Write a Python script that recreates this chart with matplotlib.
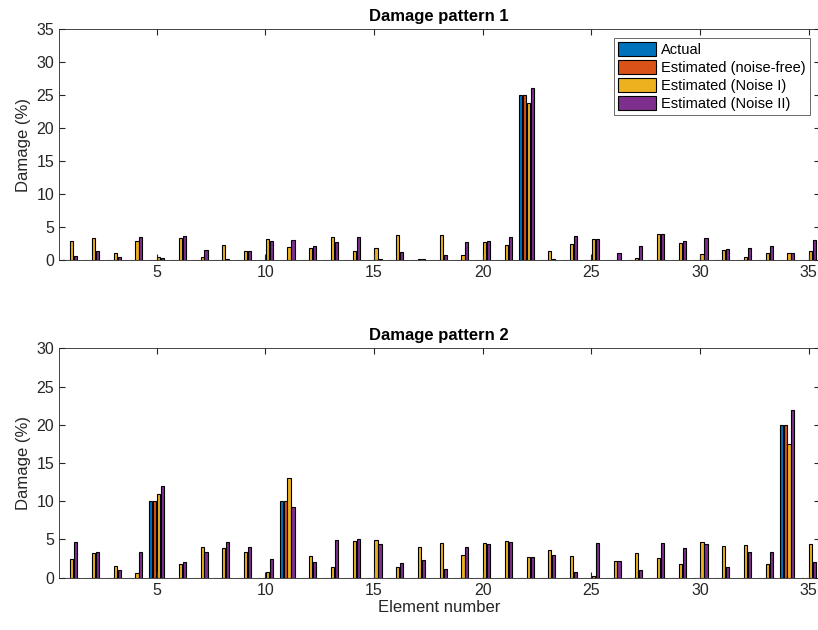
import numpy as np
import matplotlib.pyplot as plt

plt.rcParams['font.family'] = ['Liberation Sans', 'DejaVu Sans']

elements = np.arange(1, 36)
labels = ["Actual", "Estimated (noise-free)", "Estimated (Noise I)", "Estimated (Noise II)"]
colors = ["#0072BD", "#D95319", "#EDB120", "#7E2F8E"]

# Damage pattern 1
actual_1 = np.zeros(35)
actual_1[21] = 25
free_1 = np.zeros(35)
free_1[21] = 25
noise1_1 = [2.85, 3.4, 1.05, 2.9, 0.5, 3.3, 0.5, 2.3, 1.4, 3.2,
            2.0, 1.9, 3.5, 1.4, 1.8, 3.8, 0.15, 3.85, 0.75, 2.7,
            2.3, 23.8, 1.4, 2.5, 3.2, 0.0, 0.3, 3.9, 2.6, 0.95,
            1.55, 0.5, 1.1, 1.05, 1.35]
noise2_1 = [0.6, 1.4, 0.45, 3.5, 0.35, 3.7, 1.6, 0.15, 1.35, 2.9,
            3.1, 2.1, 2.7, 3.5, 0.15, 1.25, 0.15, 0.8, 2.8, 2.9,
            3.5, 26.0, 0.25, 3.7, 3.2, 1.1, 2.1, 3.95, 2.9, 3.3,
            1.65, 1.85, 2.2, 1.1, 3.0]

# Damage pattern 2
actual_2 = np.zeros(35)
actual_2[[4, 10, 33]] = [10, 10, 20]
free_2 = np.zeros(35)
free_2[[4, 10, 33]] = [10, 10, 20]
noise1_2 = [2.5, 3.25, 1.5, 0.65, 11.0, 1.8, 4.0, 3.9, 3.35, 0.7,
            13.0, 2.8, 1.45, 4.75, 4.9, 1.45, 4.05, 4.5, 3.0, 4.5,
            4.8, 2.7, 3.65, 2.9, 0.2, 2.2, 3.25, 2.6, 1.85, 4.7,
            4.2, 4.3, 1.85, 17.5, 4.4]
noise2_2 = [4.7, 3.35, 1.0, 3.3, 12.0, 2.0, 3.35, 4.7, 4.05, 2.4,
            9.3, 2.05, 4.9, 5.0, 4.4, 1.9, 2.3, 1.2, 4.0, 4.45,
            4.65, 2.75, 3.0, 0.7, 4.5, 2.2, 1.0, 4.5, 3.85, 4.4,
            1.4, 3.4, 3.3, 22.0, 2.05]

fig = plt.figure(figsize=(8.18, 6.3), dpi=100)
ax1 = fig.add_axes([0.072, 0.587, 0.93, 0.367])
ax2 = fig.add_axes([0.072, 0.083, 0.93, 0.364])

offsets = [-0.27, -0.09, 0.09, 0.27]


def draw(ax, series, ymax, title):
    for s, off, c, lab in zip(series, offsets, colors, labels):
        ax.bar(elements + off, s, width=0.145, color=c, edgecolor="black",
               linewidth=0.8, label=lab)
    ax.set_xlim(0.5, 35.5)
    ax.set_ylim(0, ymax)
    ax.set_xticks([5, 10, 15, 20, 25, 30, 35])
    ax.set_yticks(np.arange(0, ymax + 1, 5))
    ax.tick_params(direction="in", top=True, right=True, labelsize=11.5,
                   colors="#262626", length=4)
    for sp in ax.spines.values():
        sp.set_color("#262626")
        sp.set_linewidth(0.6)
    ax.set_ylabel("Damage (%)", fontsize=12, color="#262626")
    ax.set_title(title, fontsize=12, fontweight="bold", pad=6)


draw(ax1, [actual_1, free_1, noise1_1, noise2_1], 35, "Damage pattern 1")
draw(ax2, [actual_2, free_2, noise1_2, noise2_2], 30, "Damage pattern 2")
ax2.set_xlabel("Element number", fontsize=12, color="#262626", labelpad=2)

leg = ax1.legend(loc="upper right", bbox_to_anchor=(0.987, 0.961), fontsize=10.5,
                 frameon=True, fancybox=False, edgecolor="#262626",
                 handlelength=2.6, handleheight=1.1, handletextpad=0.3,
                 labelspacing=0.2, borderpad=0.3, borderaxespad=0)
leg.get_frame().set_linewidth(0.6)

fig.savefig("out.png", dpi=100)
